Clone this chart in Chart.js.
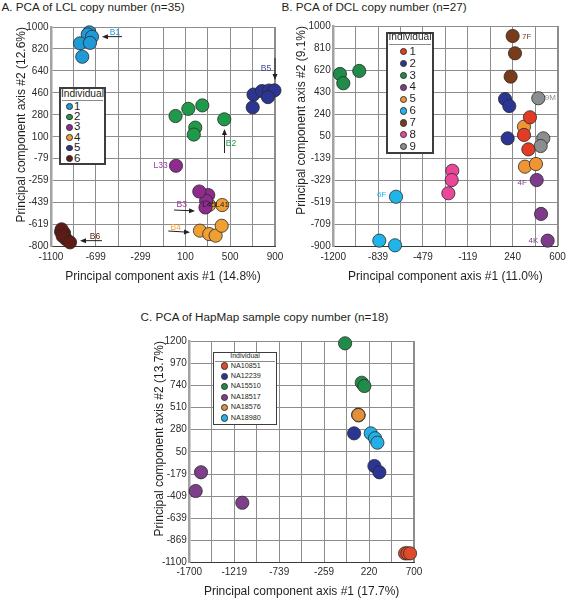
<!DOCTYPE html>
<html>
<head>
<meta charset="utf-8">
<script src="https://cdn.jsdelivr.net/npm/chart.js@4.4.0/dist/chart.umd.min.js"></script>
<style>
  html, body { margin: 0; padding: 0; background: #fff; overflow: hidden; }
  body { width: 566px; height: 599px; position: relative; font-family: "Liberation Sans", Arial, sans-serif; color: #231f20; }
  canvas { position: absolute; }
  .title { position: absolute; font-size: 11.7px; line-height: 14px; white-space: nowrap; }
</style>
</head>
<body>
<div class="title" style="left:1.5px; top:0px;">A. PCA of LCL copy number (n=35)</div>
<div class="title" style="left:281.5px; top:0px;">B. PCA of DCL copy number (n=27)</div>
<div class="title" style="left:140.5px; top:310px;">C. PCA of HapMap sample copy number (n=18)</div>
<script>
// Panel A - LCL copy number
const lclGroups = [1, 2, 3, 4, 5, 6];
const lclIndividual = [1, 1, 1, 1, 1, 1, 2, 2, 2, 2, 2, 2, 3, 3, 3, 3, 3, 4, 4, 4, 4, 4, 4, 5, 5, 5, 5, 5, 5, 6, 6, 6, 6, 6, 6];
const lclPC1 = [-758, -772, -734, -841, -752, -821, 12, 126, 251, 188, 175, 447, 16, 304, 285, 279, 224, 311, 429, 230, 313, 370, 424, 708, 701, 784, 846, 895, 837, -1010, -984, -1005, -966, -996, -930];
const lclPC2 = [956, 939, 920, 866, 870, 756, 270, 329, 357, 175, 118, 243, -138, -378, -425, -480, -349, -460, -460, -670, -698, -711, -630, 446, 341, 475, 479, 480, 425, -680, -690, -659, -740, -714, -766];
const lclXTicks = ['-1100', '', '-699', '', '-299', '', '100', '', '500', '', '900'];
const lclYTicks = ['-800', '-619', '-439', '-259', '-79', '100', '280', '460', '640', '820', '1000'];

// Panel B - DCL copy number
const dclGroups = [1, 2, 3, 4, 5, 6, 7, 8, 9];
const dclIndividual = [1, 1, 1, 2, 2, 2, 3, 3, 3, 4, 4, 4, 5, 5, 5, 6, 6, 6, 7, 7, 7, 8, 8, 8, 9, 9, 9];
const dclPC1 = [379, 331, 366, 179, 213, 200, -1146, -1119, -991, 433, 468, 521, 331, 339, 427, -696, -830, -704, 240, 259, 224, -244, -249, -276, 446, 486, 465];
const dclPC2 = [214, 62, -62, 371, 311, 33, 587, 507, 613, -326, -618, -848, 133, -211, -188, -470, -848, -888, 914, 765, 564, -246, -326, -440, 378, 33, -33];
const dclXTicks = ['-1200', '', '-839', '', '-479', '', '-119', '', '240', '', '600'];
const dclYTicks = ['-900', '-709', '-519', '-329', '-139', '50', '240', '430', '620', '810', '1000'];

// Panel C - HapMap sample copy number
const hapGroups = ['NA10851', 'NA12239', 'NA15510', 'NA18517', 'NA18576', 'NA18980'];
const hapIndividual = ['NA10851', 'NA10851', 'NA10851', 'NA12239', 'NA12239', 'NA12239', 'NA15510', 'NA15510', 'NA15510', 'NA18517', 'NA18517', 'NA18517', 'NA18576', 'NA18576', 'NA18576', 'NA18980', 'NA18980', 'NA18980'];
const hapPC1 = [605, 630, 658, 60, 277, 330, -36, 142, 170, -1575, -1632, -1134, 104, 108, 106, 238, 284, 309];
const hapPC2 = [-1003, -1003, -1003, 242, -97, -162, 1176, 767, 733, -162, -356, -478, 436, 428, 432, 242, 191, 145];
const hapXTicks = ['-1700', '', '-1219', '', '-739', '', '-259', '', '220', '', '700'];
const hapYTicks = ['-1100', '-869', '-639', '-409', '-179', '50', '280', '510', '740', '970', '1200'];

Chart.defaults.font.family = '"Liberation Sans", Arial, Helvetica, sans-serif';
Chart.defaults.color = '#231f20';

// Text labels and arrows placed in data coordinates
const notesPlugin = {
  id: 'notes',
  afterDatasetsDraw(chart, args, opts) {
    const { ctx } = chart;
    const sx = chart.scales.x;
    const sy = chart.scales.y;
    ctx.save();
    ctx.strokeStyle = '#231f20';
    ctx.fillStyle = '#231f20';
    ctx.lineWidth = 1;
    (opts.arrows || []).forEach((a) => {
      const x1 = sx.getPixelForValue(a[0]);
      const y1 = sy.getPixelForValue(a[1]);
      const x2 = sx.getPixelForValue(a[2]);
      const y2 = sy.getPixelForValue(a[3]);
      const ang = Math.atan2(y2 - y1, x2 - x1);
      const c = Math.cos(ang);
      const s = Math.sin(ang);
      ctx.beginPath();
      ctx.moveTo(x1, y1);
      ctx.lineTo(x2 - 4 * c, y2 - 4 * s);
      ctx.stroke();
      ctx.beginPath();
      ctx.moveTo(x2, y2);
      ctx.lineTo(x2 - 6 * c + 2.5 * s, y2 - 6 * s - 2.5 * c);
      ctx.lineTo(x2 - 6 * c - 2.5 * s, y2 - 6 * s + 2.5 * c);
      ctx.closePath();
      ctx.fill();
    });
    ctx.textAlign = 'center';
    ctx.textBaseline = 'middle';
    (opts.labels || []).forEach((l) => {
      ctx.font = (l.size || opts.size) + 'px "Liberation Sans", Arial, sans-serif';
      ctx.fillStyle = l.color;
      ctx.fillText(l.text, sx.getPixelForValue(l.x), sy.getPixelForValue(l.y));
    });
    ctx.restore();
  }
};

function tickValues(range, n) {
  return Array.from({ length: n }, (_, i) => ({ value: range[0] + (range[1] - range[0]) * i / (n - 1) }));
}

function buildPanel(p) {
  const canvas = document.createElement('canvas');
  canvas.width = p.box[2];
  canvas.height = p.box[3];
  canvas.style.left = p.box[0] + 'px';
  canvas.style.top = p.box[1] + 'px';
  document.body.appendChild(canvas);

  const datasets = p.groups.map((g, gi) => ({
    label: String(g),
    data: p.ids.map((id, i) => ({ id: id, x: p.pc1[i], y: p.pc2[i] })).filter((d) => d.id === g),
    backgroundColor: p.colors[gi],
    borderColor: '#2a2a2a',
    borderWidth: 0.8,
    pointRadius: 6.6,
    pointHoverRadius: 6.6,
    clip: false
  }));

  return new Chart(canvas, {
    type: 'scatter',
    data: { datasets: datasets },
    options: {
      responsive: false,
      animation: false,
      devicePixelRatio: 1,
      layout: { padding: p.padding },
      plugins: {
        legend: { display: false },
        tooltip: { enabled: false },
        notes: p.notes
      },
      scales: {
        x: {
          type: 'linear',
          min: p.xRange[0],
          max: p.xRange[1],
          afterBuildTicks: (s) => { s.ticks = tickValues(p.xRange, p.xTicks.length); },
          afterFit: (s) => { s.height = p.xHeight; s.paddingLeft = 0; s.paddingRight = 0; },
          ticks: { autoSkip: false, maxRotation: 0, padding: p.xTickPad, font: { size: 10 }, color: '#2b2b2b', callback: (v, i) => p.xTicks[i] },
          grid: { color: '#8d8d8d', lineWidth: (c) => (c.index === p.xTicks.length - 1 ? 2 : 1), drawTicks: false },
          border: { color: '#3a3a3a', width: 1 },
          title: { display: true, text: p.xTitle, font: { size: 12 }, color: '#231f20', padding: { top: 0, bottom: p.xTitlePad } }
        },
        y: {
          type: 'linear',
          min: p.yRange[0],
          max: p.yRange[1],
          afterBuildTicks: (s) => { s.ticks = tickValues(p.yRange, p.yTicks.length); },
          afterFit: (s) => { s.width = p.yWidth; s.paddingTop = 0; s.paddingBottom = 0; },
          ticks: { autoSkip: false, padding: 2.5, font: { size: 10 }, color: '#2b2b2b', callback: (v, i) => p.yTicks[i] },
          grid: { color: '#8d8d8d', lineWidth: 1, drawTicks: false },
          border: { color: '#a3a3a3', width: 2.5 },
          title: { display: true, text: p.yTitle, align: 'end', font: { size: 12 }, color: '#231f20', padding: { top: p.yTitlePad, bottom: 0 } }
        }
      }
    },
    plugins: [notesPlugin]
  });
}

function buildLegend(L, names, colors) {
  const add = (css, text) => {
    const d = document.createElement('div');
    d.style.cssText = 'position:absolute;white-space:nowrap;' + css;
    if (text) d.textContent = text;
    document.body.appendChild(d);
  };
  add(`left:${L.left}px;top:${L.top}px;width:${L.width}px;height:${L.height}px;border:${L.border}px solid #3d3d3d;box-sizing:border-box;background:#fff;`);
  add(`left:${L.left}px;width:${L.width}px;top:${L.headY - L.headSize * 0.6}px;text-align:center;font-size:${L.headSize}px;line-height:${L.headSize * 1.2}px;`, 'Individual');
  add(`left:${L.left + L.border + 1}px;width:${L.width - 2 * L.border - 2}px;top:${L.ruleY}px;height:0;border-top:1px solid #8a8a8a;`);
  names.forEach((n, i) => {
    const cy = L.rowY0 + i * L.rowGap;
    add(`left:${L.dotX - L.dotR}px;top:${cy - L.dotR}px;width:${2 * L.dotR}px;height:${2 * L.dotR}px;border-radius:50%;background:${colors[i]};box-sizing:border-box;border:0.5px solid #333;`);
    add(`left:${L.textX}px;top:${cy - L.textSize * 0.6}px;font-size:${L.textSize}px;line-height:${L.textSize * 1.2}px;`, String(n));
  });
}

const lclColors = ['#1e9ad6', '#1f9a4a', '#8e2b8f', '#f0a033', '#2c3591', '#5e1a14'];
const dclColors = ['#e23c25', '#2b3593', '#1f8d49', '#7e3b8c', '#ef9533', '#1fb4ea', '#7a3b1b', '#ea479b', '#8b8e90'];
const hapColors = ['#df4a2b', '#2b3593', '#1f8d49', '#7e3f8a', '#e28f3a', '#22b0e6'];

buildPanel({
  box: [0, 0, 292, 290],
  padding: { left: 0, top: 27, right: 17, bottom: 0 },
  yWidth: 51, xHeight: 43.5, xTickPad: 5, xTitlePad: 5.8, yTitlePad: 14,
  groups: lclGroups, ids: lclIndividual, pc1: lclPC1, pc2: lclPC2, colors: lclColors,
  xRange: [-1100, 900], yRange: [-800, 1000], xTicks: lclXTicks, yTicks: lclYTicks,
  xTitle: 'Principal component axis #1 (14.8%)', yTitle: 'Principal component axis #2 (12.6%)',
  notes: {
    size: 8.5,
    arrows: [[-466, 921, -645, 921], [900, 745, 900, 566], [449, -34, 449, 163], [-2, -501, 186, -508], [-53, -673, 141, -684], [-645, -752, -841, -752]],
    labels: [
      { text: 'B1', x: -529, y: 954, color: '#1e9ad6' },
      { text: 'B5', x: 820, y: 659, color: '#3b4596' },
      { text: 'B2', x: 507, y: 40, color: '#1f9a4a' },
      { text: 'L33', x: -121, y: -138, color: '#9b3a9b' },
      { text: 'B3', x: 67, y: -460, color: '#9b3a9b' },
      { text: 'B4', x: 13, y: -646, color: '#f0a033' },
      { text: 'B6', x: -707, y: -720, color: '#5e1a14' },
      { text: 'L45', x: 311, y: -460, color: '#231f20', size: 8 },
      { text: 'L41', x: 429, y: -460, color: '#231f20', size: 8 }
    ]
  }
});
buildLegend({ left: 58.7, top: 87, width: 47.5, height: 78, border: 2, headSize: 10.2, headY: 94, ruleY: 99.5, rowY0: 106.5, rowGap: 10.4, dotX: 69.3, dotR: 3.4, textX: 74, textSize: 11.5 }, lclGroups, lclColors);

buildPanel({
  box: [283, 0, 283, 290],
  padding: { left: 0, top: 26, right: 8.5, bottom: 0 },
  yWidth: 50.2, xHeight: 43.3, xTickPad: 5, xTitlePad: 5.8, yTitlePad: 11.8,
  groups: dclGroups, ids: dclIndividual, pc1: dclPC1, pc2: dclPC2, colors: dclColors,
  xRange: [-1200, 600], yRange: [-900, 1000], xTicks: dclXTicks, yTicks: dclYTicks,
  xTitle: 'Principal component axis #1 (11.0%)', yTitle: 'Principal component axis #2 (9.1%)',
  notes: {
    size: 8,
    arrows: [],
    labels: [
      { text: '7F', x: 353, y: 908, color: '#7a3b1b' },
      { text: '9M', x: 542, y: 378, color: '#8b8e90' },
      { text: '4F', x: 317, y: -349, color: '#7e3b8c' },
      { text: '4K', x: 406, y: -848, color: '#7e3b8c' },
      { text: '6F', x: -811, y: -455, color: '#1fb4ea' }
    ]
  }
});
buildLegend({ left: 386, top: 31.7, width: 48, height: 122.3, border: 2, headSize: 10.2, headY: 37.5, ruleY: 43.5, rowY0: 51.7, rowGap: 11.875, dotX: 403.3, dotR: 3.6, textX: 409.5, textSize: 11.5 }, dclGroups, dclColors);

buildPanel({
  box: [140, 300, 300, 299],
  padding: { left: 0, top: 41, right: 26, bottom: 0 },
  yWidth: 49.3, xHeight: 36.3, xTickPad: 4, xTitlePad: 0, yTitlePad: 12.8,
  groups: hapGroups, ids: hapIndividual, pc1: hapPC1, pc2: hapPC2, colors: hapColors,
  xRange: [-1700, 700], yRange: [-1100, 1200], xTicks: hapXTicks, yTicks: hapYTicks,
  xTitle: 'Principal component axis #1 (17.7%)', yTitle: 'Principal component axis #2 (13.7%)',
  notes: { size: 8, arrows: [], labels: [] }
});
buildLegend({ left: 212.7, top: 351.7, width: 64.6, height: 73.3, border: 1.5, headSize: 7, headY: 356.3, ruleY: 361, rowY0: 366, rowGap: 10.4, dotX: 224.3, dotR: 3.6, textX: 230.7, textSize: 7.2 }, hapGroups, hapColors);
</script>
</body>
</html>
